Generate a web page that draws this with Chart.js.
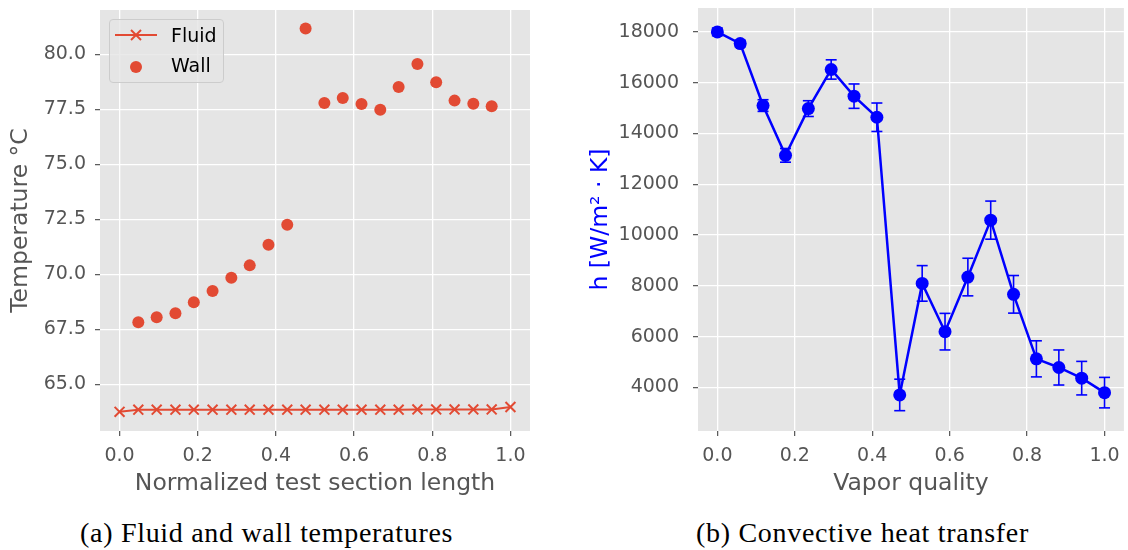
<!DOCTYPE html>
<html>
<head>
<meta charset="utf-8">
<script src="https://cdn.jsdelivr.net/npm/chart.js@4.4.1/dist/chart.umd.min.js"></script>
<style>
  body { margin: 0; width: 1128px; height: 550px; overflow: hidden; background: #fff; position: relative; }
  canvas { position: absolute; top: 0; }
  #tempChart { left: 0; }
  #htcChart { left: 560px; }
  #legendBox {
    position: absolute; left: 109px; top: 19px; width: 113px; height: 62px;
    background: rgba(229, 229, 229, 0.8); border: 1px solid #cccccc; border-radius: 4px;
  }
  .legText { position: absolute; font-family: "DejaVu Sans"; font-size: 19px; line-height: 19px; color: #000; white-space: nowrap; }
  .caption { position: absolute; font-family: "Liberation Serif"; font-size: 28px; line-height: 28px; letter-spacing: 0.7px; color: #000; white-space: nowrap; }
</style>
</head>
<body>
<canvas id="tempChart" width="545" height="505"></canvas>
<canvas id="htcChart" width="571" height="505"></canvas>

<div id="legendBox"></div>
<svg style="position:absolute;left:0;top:0" width="240" height="90">
  <line x1="115" y1="35" x2="157" y2="35" stroke="#E24A33" stroke-width="2"/>
  <line x1="131" y1="30" x2="141" y2="40" stroke="#E24A33" stroke-width="2"/>
  <line x1="131" y1="40" x2="141" y2="30" stroke="#E24A33" stroke-width="2"/>
  <circle cx="136" cy="67" r="6" fill="#E24A33"/>
</svg>
<div class="legText" style="left:171px; top:26px;">Fluid</div>
<div class="legText" style="left:171px; top:56px;">Wall</div>

<div class="caption" style="left:80px; top:519px;">(a) Fluid and wall temperatures</div>
<div class="caption" style="left:696px; top:519px;">(b) Convective heat transfer</div>

<script>
// ---- left panel: temperatures along the test section ----
const fluidPos = [0.000, 0.048, 0.095, 0.143, 0.190, 0.238, 0.286, 0.333, 0.381, 0.429, 0.476,
                  0.524, 0.571, 0.619, 0.667, 0.714, 0.762, 0.810, 0.857, 0.905, 0.952, 1.000];
const fluidTemp = [63.75, 63.85, 63.85, 63.85, 63.85, 63.85, 63.85, 63.85, 63.85, 63.85, 63.85,
                   63.85, 63.85, 63.85, 63.85, 63.85, 63.86, 63.86, 63.86, 63.86, 63.86, 63.97];
const wallPos = [0.048, 0.095, 0.143, 0.190, 0.238, 0.286, 0.333, 0.381, 0.429, 0.476,
                 0.524, 0.571, 0.619, 0.667, 0.714, 0.762, 0.810, 0.857, 0.905, 0.952];
const wallTemp = [67.82, 68.05, 68.23, 68.73, 69.25, 69.85, 70.41, 71.35, 72.26, 81.18,
                  77.79, 78.02, 77.75, 77.49, 78.52, 79.56, 78.74, 77.90, 77.76, 77.64];
const tempTicks = [65.0, 67.5, 70.0, 72.5, 75.0, 77.5, 80.0];

// ---- right panel: heat transfer coefficient vs vapor quality ----
const quality = [0.000, 0.059, 0.118, 0.176, 0.235, 0.294, 0.353, 0.412, 0.471,
                 0.529, 0.588, 0.647, 0.706, 0.765, 0.824, 0.882, 0.941, 1.000];
const htc = [18000, 17540, 15100, 13140, 14980, 16520, 15470, 14640, 3710,
             8100, 6200, 8350, 10590, 7670, 5130, 4790, 4370, 3800];
const htcErr = [150, 130, 230, 270, 310, 380, 480, 560, 620,
                700, 720, 740, 750, 740, 710, 690, 660, 600];
const htcTicks = [4000, 6000, 8000, 10000, 12000, 14000, 16000, 18000];

const xTicks = [0.0, 0.2, 0.4, 0.6, 0.8, 1.0];

const tickGray = "#555555";
const red = "#E24A33";
const blue = "#0000FF";

// gray plot background, ggplot style
const plotBg = {
  id: "plotBg",
  beforeDraw(chart) {
    const { ctx, chartArea: a } = chart;
    ctx.save();
    ctx.fillStyle = "#E5E5E5";
    ctx.fillRect(a.left, a.top, a.right - a.left, a.bottom - a.top);
    ctx.restore();
  },
};

const gridOpts = { color: "#ffffff", lineWidth: 1.3, tickColor: tickGray, tickLength: 5, tickWidth: 1.2 };

function xScale(title) {
  return {
    type: "linear",
    min: -0.05,
    max: 1.05,
    afterBuildTicks: (s) => { s.ticks = xTicks.map((v) => ({ value: v })); },
    afterFit: (s) => { s.height = 74; s.paddingLeft = 0; s.paddingRight = 0; },
    grid: gridOpts,
    border: { display: false },
    ticks: {
      color: tickGray, padding: 9, maxRotation: 0,
      font: { family: "DejaVu Sans", size: 19 },
      callback: (v) => v.toFixed(1),
    },
    title: {
      display: true, text: title, color: tickGray,
      font: { family: "DejaVu Sans", size: 23.5 },
      padding: { top: 0, bottom: 7 },
    },
  };
}

Chart.defaults.animation = false;

new Chart(document.getElementById("tempChart"), {
  type: "scatter",
  data: {
    datasets: [
      {
        label: "Fluid",
        data: fluidPos.map((x, i) => ({ x: x, y: fluidTemp[i] })),
        showLine: true,
        borderColor: red,
        borderWidth: 2,
        pointStyle: "crossRot",
        pointRadius: 7,
        pointBorderWidth: 2,
        pointBorderColor: red,
      },
      {
        label: "Wall",
        data: wallPos.map((x, i) => ({ x: x, y: wallTemp[i] })),
        showLine: false,
        pointStyle: "circle",
        pointRadius: 6,
        pointBackgroundColor: red,
        pointBorderWidth: 0,
      },
    ],
  },
  options: {
    responsive: false,
    layout: { padding: { top: 10, right: 15, left: 0, bottom: 0 } },
    plugins: { legend: { display: false }, tooltip: { enabled: false } },
    scales: {
      x: xScale("Normalized test section length"),
      y: {
        min: 62.88,
        max: 82.02,
        afterBuildTicks: (s) => { s.ticks = tempTicks.map((v) => ({ value: v })); },
        afterFit: (s) => { s.width = 100; s.paddingTop = 0; s.paddingBottom = 0; },
        grid: gridOpts,
        border: { display: false },
        ticks: {
          color: tickGray, padding: 9,
          font: { family: "DejaVu Sans", size: 19 },
          callback: (v) => v.toFixed(1),
        },
        title: {
          display: true, text: "Temperature °C", color: tickGray,
          font: { family: "DejaVu Sans", size: 23.5 },
          padding: { top: 7, bottom: 0 },
        },
      },
    },
  },
  plugins: [plotBg],
});

// error bars as short vertical segments, broken by null points
const errData = [];
quality.forEach((q, i) => {
  errData.push({ x: q, y: htc[i] - htcErr[i] });
  errData.push({ x: q, y: htc[i] + htcErr[i] });
  errData.push({ x: q, y: null });
});

new Chart(document.getElementById("htcChart"), {
  type: "scatter",
  data: {
    datasets: [
      {
        label: "h",
        data: quality.map((q, i) => ({ x: q, y: htc[i] })),
        showLine: true,
        borderColor: blue,
        borderWidth: 2.5,
        pointStyle: "circle",
        pointRadius: 6.5,
        pointBackgroundColor: blue,
        pointBorderWidth: 0,
      },
      {
        label: "error",
        data: errData,
        showLine: true,
        spanGaps: false,
        borderColor: blue,
        borderWidth: 1.6,
        pointStyle: "line",
        pointRadius: 5.5,
        pointBorderColor: blue,
        pointBorderWidth: 1.6,
      },
    ],
  },
  options: {
    responsive: false,
    layout: { padding: { top: 8, right: 0, left: 0, bottom: 0 } },
    plugins: { legend: { display: false }, tooltip: { enabled: false } },
    scales: {
      x: xScale("Vapor quality"),
      y: {
        min: 2290,
        max: 18940,
        afterBuildTicks: (s) => { s.ticks = htcTicks.map((v) => ({ value: v })); },
        afterFit: (s) => { s.width = 138; s.paddingTop = 0; s.paddingBottom = 0; },
        grid: gridOpts,
        border: { display: false },
        ticks: {
          color: tickGray, padding: 14,
          font: { family: "DejaVu Sans", size: 19 },
          callback: (v) => String(v),
        },
        title: {
          display: true, text: "h [W/m² · K]", color: blue,
          font: { family: "DejaVu Sans", size: 23.5 },
          padding: { top: 27, bottom: 0 },
        },
      },
    },
  },
  plugins: [plotBg],
});
</script>
</body>
</html>
